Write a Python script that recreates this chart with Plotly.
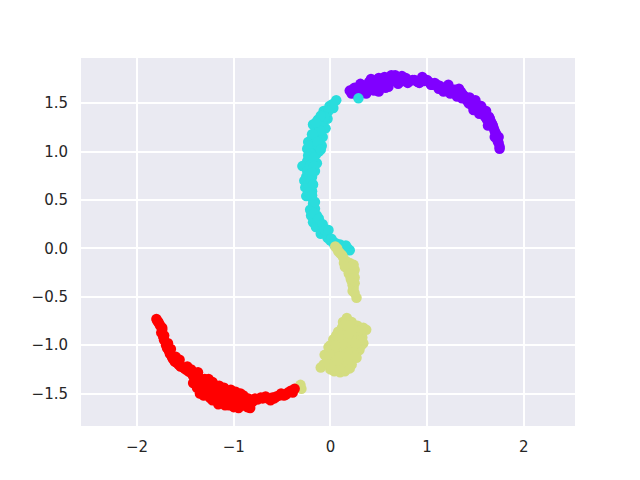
import plotly.graph_objects as go

purple_x = [0.20,0.22,0.25,0.28,0.31,0.30,0.34,0.37,0.40,0.36,0.44,0.42,0.47,0.50,0.46,0.53,0.50,0.56,0.60,0.55,0.63,0.60,0.66,0.70,0.67,0.74,0.72,0.78,0.80,0.85,0.90,0.95,0.92,1.00,1.04,1.08,1.13,1.18,1.22,1.27,1.30,1.33,1.37,1.40,1.44,1.47,1.50,1.53,1.56,1.58,1.61,1.64,1.66,1.68,1.70,1.72,1.73,1.74,1.75,1.75,
            0.24,0.27,0.33,0.39,0.43,0.48,0.52,0.57,0.62,0.65,0.69,0.73,0.76,0.82,0.87,0.97,1.02,1.06,1.10,1.15,1.20,1.25,1.29,1.35,1.39,1.42,1.46,1.49,1.52,1.55,1.59,1.62,1.65,1.67,1.69,1.71,1.73,0.35,0.45,0.58,
            1.12,1.17,1.24,1.31,1.36,1.43,1.48,1.54,1.60,1.63,1.70,1.74]
purple_y = [1.63,1.60,1.66,1.58,1.70,1.62,1.68,1.60,1.72,1.64,1.67,1.75,1.66,1.76,1.72,1.69,1.62,1.77,1.67,1.74,1.79,1.71,1.75,1.70,1.79,1.78,1.72,1.76,1.71,1.74,1.72,1.77,1.71,1.74,1.69,1.71,1.68,1.66,1.69,1.64,1.60,1.65,1.59,1.54,1.56,1.50,1.53,1.45,1.47,1.39,1.42,1.36,1.31,1.27,1.21,1.17,1.13,1.09,1.05,1.03,
            1.65,1.62,1.64,1.66,1.69,1.72,1.70,1.66,1.72,1.74,1.75,1.74,1.73,1.73,1.74,1.73,1.72,1.69,1.69,1.65,1.64,1.62,1.64,1.62,1.57,1.52,1.48,1.51,1.43,1.44,1.41,1.33,1.34,1.29,1.24,1.19,1.11,1.62,1.63,1.70,
            1.65,1.62,1.60,1.57,1.55,1.50,1.43,1.39,1.36,1.27,1.15,1.15]
teal_x = [0.29,0.06,0.03,-0.01,-0.04,-0.07,-0.03,-0.13,-0.08,-0.15,-0.05,-0.19,-0.12,-0.08,-0.23,-0.16,-0.09,-0.24,-0.19,-0.12,-0.21,-0.15,-0.24,-0.18,-0.14,-0.29,-0.22,-0.16,-0.25,-0.19,-0.27,-0.20,-0.26,-0.19,-0.25,-0.19,-0.18,-0.21,-0.16,-0.20,-0.14,-0.18,-0.11,-0.15,-0.08,-0.10,-0.05,-0.03,0.00,0.03,0.06,0.10,0.14,0.18,0.20,
          0.02,-0.02,-0.06,-0.10,-0.12,-0.18,-0.20,-0.10,-0.14,-0.17,-0.22,-0.20,-0.13,-0.23,-0.17,-0.21,-0.17,-0.24,-0.22,-0.19,-0.23,-0.20,-0.18,-0.22,-0.19,-0.16,-0.13,-0.17,-0.12,-0.08,-0.06,-0.02,0.01,0.04,0.08,0.12,0.16,-0.11,-0.15,-0.18,-0.13,-0.10]
teal_y = [1.55,1.53,1.45,1.47,1.39,1.42,1.34,1.33,1.30,1.23,1.24,1.18,1.20,1.15,1.10,1.12,1.06,1.03,1.03,1.00,0.95,0.97,0.90,0.90,0.88,0.85,0.82,0.80,0.74,0.74,0.70,0.66,0.63,0.59,0.54,0.52,0.46,0.40,0.41,0.34,0.34,0.27,0.27,0.22,0.21,0.15,0.15,0.11,0.08,0.07,0.05,0.04,0.02,0.00,-0.02,
          1.49,1.42,1.36,1.37,1.27,1.28,1.12,1.26,1.16,1.08,1.06,0.98,1.06,0.96,0.94,0.86,0.85,0.80,0.76,0.78,0.66,0.70,0.66,0.58,0.55,0.48,0.30,0.36,0.31,0.25,0.19,0.19,0.10,0.04,0.02,0.00,0.03,1.22,1.30,1.18,1.10,1.02]
khaki_x = [0.05,0.07,0.10,0.13,0.16,0.18,0.20,0.21,0.24,0.22,0.25,0.24,0.23,0.27,-0.31,-0.30,-0.33,0.17,0.13,0.22,0.28,0.34,0.37,0.33,0.27,0.34,0.30,0.27,0.22,0.15,0.10,0.04,0.00,-0.03,-0.07,-0.10,-0.06,-0.02,0.03,0.08,0.12,0.18,0.24,0.05,0.10,0.17,0.22,0.03,0.10,0.16,0.22,0.01,0.08,0.14,0.20,0.26,
           0.08,0.12,0.14,0.17,0.19,0.22,0.23,0.22,0.25,0.28,0.31,0.20,0.14,0.06,0.00,0.01,0.06,0.12,0.18,0.24,0.29,-0.04,-0.01,0.04,0.09,0.15,0.21,0.27,0.32,0.25,0.18,0.12,0.07,0.19,0.12,0.05,0.14,0.30,0.20,0.26,0.17,
           0.15,0.19,0.24,0.21,0.25,0.24,0.23,0.25]
khaki_y = [0.02,0.00,-0.05,-0.09,-0.13,-0.17,-0.15,-0.21,-0.25,-0.29,-0.22,-0.33,-0.38,-0.51,-1.41,-1.45,-1.44,-0.72,-0.76,-0.76,-0.80,-0.82,-0.84,-0.92,-0.96,-0.98,-1.05,-1.13,-1.20,-1.27,-1.28,-1.27,-1.25,-1.18,-1.20,-1.23,-1.10,-1.02,-0.94,-0.86,-0.82,-0.85,-0.90,-1.05,-0.96,-0.95,-1.00,-1.15,-1.10,-1.08,-1.12,-1.22,-1.20,-1.18,-1.18,-1.05,
           -0.03,-0.07,-0.15,-0.20,-0.24,-0.20,-0.27,-0.34,-0.30,-0.85,-0.88,-0.80,-0.79,-0.90,-1.00,-1.08,-1.02,-0.90,-0.92,-0.84,-0.92,-1.12,-1.20,-1.22,-1.12,-1.02,-1.06,-1.00,-1.00,-1.12,-1.14,-1.22,-1.16,-0.88,-0.99,-1.00,-1.25,-0.95,-1.24,-0.98,-0.80,
           -0.19,-0.26,-0.17,-0.31,-0.36,-0.41,-0.44,-0.46]
red_x = [-1.80,-1.78,-1.76,-1.75,-1.72,-1.70,-1.67,-1.64,-1.61,-1.57,-1.52,-1.47,-1.40,-1.42,-1.36,-1.38,-1.33,-1.30,-1.35,-1.26,-1.22,-1.28,-1.20,-1.15,-1.24,-1.18,-1.10,-1.13,-1.05,-1.10,-1.02,-0.98,-1.05,-0.95,-0.90,-1.00,-0.92,-0.85,-0.95,-0.88,-0.83,-0.78,-0.72,-0.67,-0.62,-0.58,-0.53,-0.48,-0.44,-0.39,-0.37,
         -1.79,-1.77,-1.74,-1.73,-1.69,-1.66,-1.63,-1.59,-1.55,-1.50,-1.45,-1.42,-1.38,-1.34,-1.32,-1.31,-1.30,-1.27,-1.25,-1.23,-1.21,-1.19,-1.17,-1.14,-1.12,-1.08,-1.06,-1.03,-1.00,-0.97,-0.94,-0.91,-0.89,-0.87,-0.82,-0.80,-0.75,-0.70,-0.65,-0.60,-0.56,-0.51,-0.46,-0.41,-1.37,-1.33,-1.22,-1.16,-1.09,-1.04,-0.99,-0.93,-0.86,
         -1.74,-1.72,-1.68,-1.65,-1.60,-1.56,-1.48,-1.44]
red_y = [-0.73,-0.76,-0.80,-0.87,-0.95,-1.00,-1.06,-1.12,-1.17,-1.20,-1.23,-1.27,-1.30,-1.39,-1.33,-1.44,-1.38,-1.35,-1.50,-1.35,-1.38,-1.44,-1.46,-1.42,-1.55,-1.55,-1.44,-1.50,-1.49,-1.59,-1.53,-1.48,-1.62,-1.55,-1.52,-1.64,-1.60,-1.55,-1.65,-1.62,-1.65,-1.55,-1.54,-1.53,-1.57,-1.55,-1.52,-1.52,-1.49,-1.49,-1.45,
         -0.75,-0.78,-0.84,-0.91,-1.03,-1.09,-1.14,-1.18,-1.22,-1.25,-1.28,-1.32,-1.36,-1.41,-1.47,-1.52,-1.42,-1.48,-1.53,-1.50,-1.40,-1.52,-1.47,-1.58,-1.46,-1.53,-1.56,-1.46,-1.51,-1.57,-1.60,-1.58,-1.62,-1.59,-1.60,-1.58,-1.56,-1.55,-1.55,-1.54,-1.53,-1.50,-1.51,-1.47,-1.28,-1.45,-1.57,-1.61,-1.62,-1.58,-1.60,-1.50,-1.64,
         -0.82,-0.90,-0.98,-1.04,-1.12,-1.15,-1.22,-1.25]

x_ticks = [-2, -1, 0, 1, 2]
y_ticks = [-1.5, -1.0, -0.5, 0.0, 0.5, 1.0, 1.5]
y_labels = ["\u22121.5", "\u22121.0", "\u22120.5", "0.0", "0.5", "1.0", "1.5"]

fig = go.Figure()
for xs, ys, c in [(purple_x, purple_y, "#8000ff"), (teal_x, teal_y, "#2adddd"),
                  (khaki_x, khaki_y, "#d4dd80"), (red_x, red_y, "#ff0000")]:
    fig.add_trace(go.Scatter(x=xs, y=ys, mode="markers", showlegend=False,
                             marker=dict(color=c, size=10.5, line=dict(width=0))))

axis = dict(showgrid=True, gridcolor="white", gridwidth=1.5, zeroline=False,
            showline=False, ticks="outside", tickcolor="rgba(0,0,0,0)",
            tickfont=dict(family="DejaVu Sans", size=15, color="#262626"))
fig.update_layout(
    width=640, height=480, margin=dict(l=73, r=73, t=50, b=62),
    paper_bgcolor="white", plot_bgcolor="#eaeaf2",
    xaxis=dict(axis, ticklen=7, range=[-2.58, 2.53], tickvals=x_ticks),
    yaxis=dict(axis, ticklen=9, range=[-1.835, 1.967], tickvals=y_ticks, ticktext=y_labels),
)
fig.write_html("out.html")
